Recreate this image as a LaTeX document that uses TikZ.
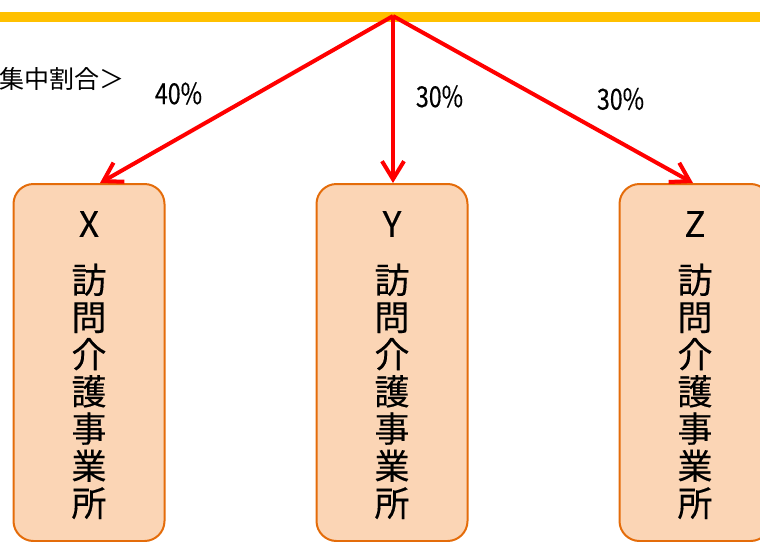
\documentclass[tikz,border=0pt]{standalone}
\usepackage{fontspec}
\setmainfont{Noto Sans CJK JP}
\newfontfamily\jpfont{Noto Sans CJK JP}
\newfontfamily\jpboldish[FakeBold=0.3]{Noto Sans CJK JP}
\usetikzlibrary{arrows.meta}
\definecolor{barY}{HTML}{FFC000}
\definecolor{boxfill}{HTML}{FBD5B5}
\definecolor{boxline}{HTML}{E46C0A}
\definecolor{arrowred}{HTML}{FF0000}
\tikzset{
  office/.style={draw=boxline, fill=boxfill, line width=2pt, rounded corners=20pt,
    minimum width=151pt, minimum height=357pt, inner sep=0pt, anchor=north},
  officetext/.style={inner sep=0pt, anchor=north, align=center,
    font=\jpboldish\fontsize{35}{37.2}\selectfont},
  ratio/.style={inner sep=0pt, font=\jpboldish\fontsize{29}{30}\selectfont},
  flow/.style={draw=arrowred, line width=4pt, -{Straight Barb[length=18pt, width=22pt, line width=4pt]}},
}
\begin{document}
\begin{tikzpicture}[x=1pt, y=-1pt]
\useasboundingbox (0,0) rectangle (760,541);
\coordinate (barL) at (0,17);
\coordinate (barR) at (760,17);
\draw[barY, line width=10pt] (barL) -- (barR);
\coordinate (apex) at (393,16);
\node[office] (X) at (89,183) {};
\node[office] (Y) at (392,183) {};
\node[office] (Z) at (695,183) {};
\node[officetext] (Xt) at ([yshift=-28pt]X.north) {X\\[19pt]訪\\問\\介\\護\\事\\業\\所};
\node[officetext] (Yt) at ([yshift=-28pt]Y.north) {Y\\[19pt]訪\\問\\介\\護\\事\\業\\所};
\node[officetext] (Zt) at ([yshift=-28pt]Z.north) {Z\\[19pt]訪\\問\\介\\護\\事\\業\\所};
\node[inner sep=0pt, anchor=east, font=\jpfont\fontsize{25}{27}\selectfont] (title) at (125,79) {集中割合＞};
\draw[flow] (apex) -- ([xshift=11pt]X.north);
\draw[flow] (apex) -- ([xshift=1pt]Y.north);
\draw[flow] (apex) -- ([xshift=-2pt]Z.north);
\node[ratio] (p1) at (178.5,93.5) {\scalebox{0.8}[1]{40\%}};
\node[ratio] (p2) at (439.5,96.5) {\scalebox{0.8}[1]{30\%}};
\node[ratio] (p3) at (620.5,99) {\scalebox{0.8}[1]{30\%}};
\end{tikzpicture}
\end{document}
